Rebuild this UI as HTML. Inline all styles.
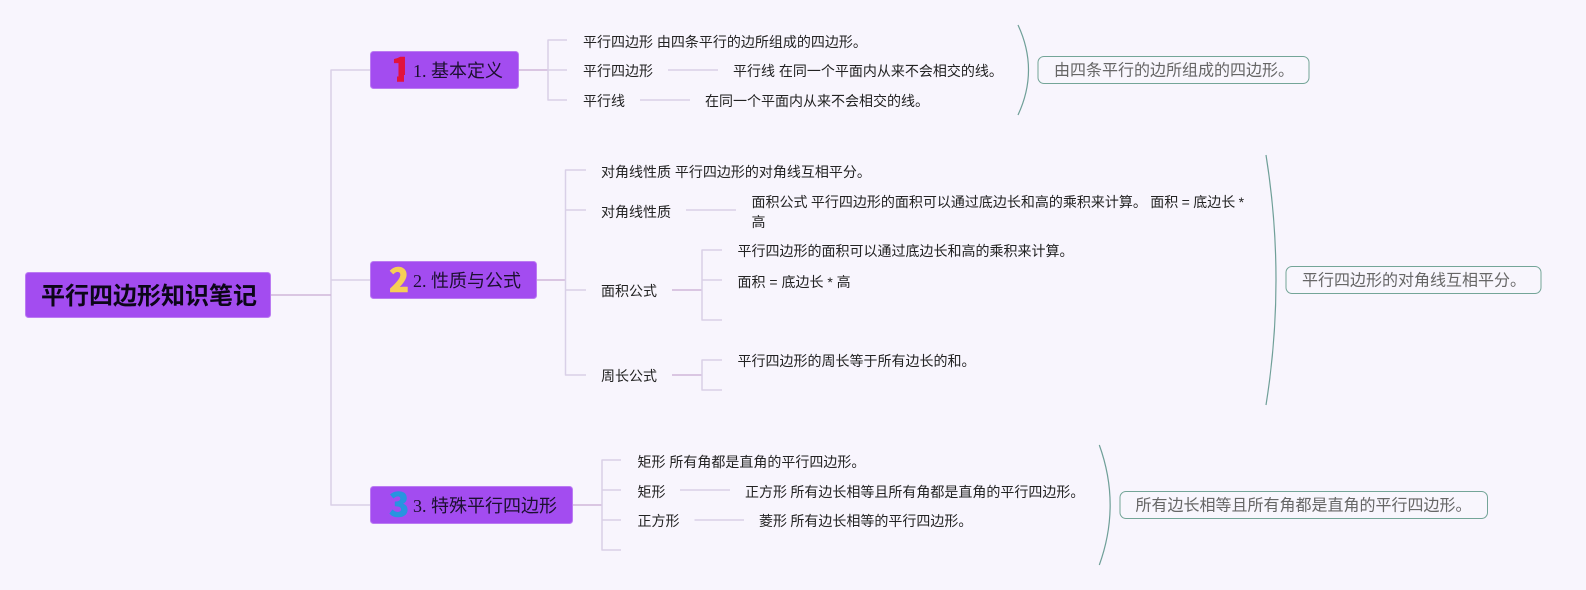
<!DOCTYPE html>
<html lang="zh"><head><meta charset="utf-8"><title>平行四边形知识笔记</title>
<style>
html,body{margin:0;padding:0;background:#f8f5fd;width:1586px;height:590px;overflow:hidden}
svg{display:block}
text{font-family:"Liberation Sans","Noto Sans CJK SC",sans-serif;font-size:14px;fill:#222}
.n{fill:#a34cf0;stroke:#bb7bf2;stroke-width:1}
.t{font-family:"Liberation Serif","Noto Sans CJK SC",serif;font-size:18px;fill:#1c1030}
.d{font-family:"Noto Sans CJK SC",sans-serif;font-size:33px;font-weight:900;stroke-width:.6;stroke-linejoin:round}
.l{fill:none;stroke:#d9d0e7;stroke-width:1.5;stroke-linejoin:round}
.p{fill:none;stroke:#cfb6da;stroke-width:1.5}
.c{fill:none;stroke:#6f9f98;stroke-width:1.2}
.b{fill:#f8f6fd;stroke:#74a598;stroke-width:1}
.s{font-size:16px;fill:#666}
</style></head><body>
<svg width="1586" height="590" viewBox="0 0 1586 590" xmlns="http://www.w3.org/2000/svg">
<defs><clipPath id="one"><polygon points="385,50 410,50 410,75 404,75 404,85 397,85 397,75 385,75"/></clipPath></defs>
<rect width="1586" height="590" fill="#f8f5fd"/>
<path class="l" d="M371 70H331V505H371M331 280H371"/>
<path class="p" d="M271 295H331"/>
<path class="p" d="M518 70H548M536 280H565.500M572 505H602"/>
<path class="l" d="M567 40H548V100H567M548 70H567M668 70H718M640 100H690"/>
<path class="l" d="M586 170H565.500V375H586M565.500 210H586M565.500 290H586M686 210H736"/>
<path class="p" d="M672 290H702M672 375H702"/>
<path class="l" d="M722 250H702V320H722M702 280H722M722 360H702V390H722"/>
<path class="l" d="M621 460H602V550H621M602 490H621M602 520H621M680 490H730M694.500 520H744"/>
<rect class="n" x="25.500" y="272.500" width="245" height="45" rx="3"/>
<text x="41" y="304" style="font-size:24px;font-weight:700;fill:#0c0618">平行四边形知识笔记</text>
<rect class="n" x="370.500" y="51.500" width="148" height="37" rx="3"/>
<text class="d" x="391" y="81.500" clip-path="url(#one)" style="fill:#e2133c;stroke:#e2133c">1</text>
<text class="t" x="413" y="77">1. 基本定义</text>
<rect class="n" x="370.500" y="261.500" width="166" height="37" rx="3"/>
<text class="d" x="389" y="292" style="fill:#f6cf55;stroke:#f6cf55">2</text>
<text class="t" x="413" y="287">2. 性质与公式</text>
<rect class="n" x="370.500" y="486.500" width="202" height="37" rx="3"/>
<text class="d" x="389" y="516.500" style="fill:#2794e0;stroke:#2794e0">3</text>
<text class="t" x="413" y="512">3. 特殊平行四边形</text>
<text x="583" y="47">平行四边形 由四条平行的边所组成的四边形。</text>
<text x="583" y="76">平行四边形</text>
<text x="733" y="76">平行线 在同一个平面内从来不会相交的线。</text>
<text x="583" y="106">平行线</text>
<text x="705" y="106">在同一个平面内从来不会相交的线。</text>
<text x="601" y="177">对角线性质 平行四边形的对角线互相平分。</text>
<text x="601" y="217">对角线性质</text>
<text x="751.500" y="207" style="word-spacing:-.5px">面积公式 平行四边形的面积可以通过底边长和高的乘积来计算。 面积 = 底边长 *</text>
<text x="751.500" y="227">高</text>
<text x="601" y="296">面积公式</text>
<text x="737.500" y="256">平行四边形的面积可以通过底边长和高的乘积来计算。</text>
<text x="737.500" y="287">面积 = 底边长 * 高</text>
<text x="601" y="381">周长公式</text>
<text x="737.500" y="366">平行四边形的周长等于所有边长的和。</text>
<text x="637.500" y="467">矩形 所有角都是直角的平行四边形。</text>
<text x="637.500" y="497">矩形</text>
<text x="745" y="497" style="word-spacing:-.5px">正方形 所有边长相等且所有角都是直角的平行四边形。</text>
<text x="637.500" y="526">正方形</text>
<text x="759" y="526" style="word-spacing:-.5px">菱形 所有边长相等的平行四边形。</text>
<path class="c" d="M1018 25Q1039 70 1018 115"/>
<path class="c" d="M1266 155Q1286 280 1266 405"/>
<path class="c" d="M1099.300 445Q1121 505 1099.300 565"/>
<rect class="b" x="1038" y="56.500" width="271" height="27" rx="6"/>
<text class="s" x="1054" y="75.500">由四条平行的边所组成的四边形。</text>
<rect class="b" x="1286" y="266.500" width="255" height="27" rx="6"/>
<text class="s" x="1302" y="285.500">平行四边形的对角线互相平分。</text>
<rect class="b" x="1120" y="491.500" width="367.500" height="27" rx="6"/>
<text class="s" x="1135.500" y="510.500">所有边长相等且所有角都是直角的平行四边形。</text>
</svg>
</body></html>
